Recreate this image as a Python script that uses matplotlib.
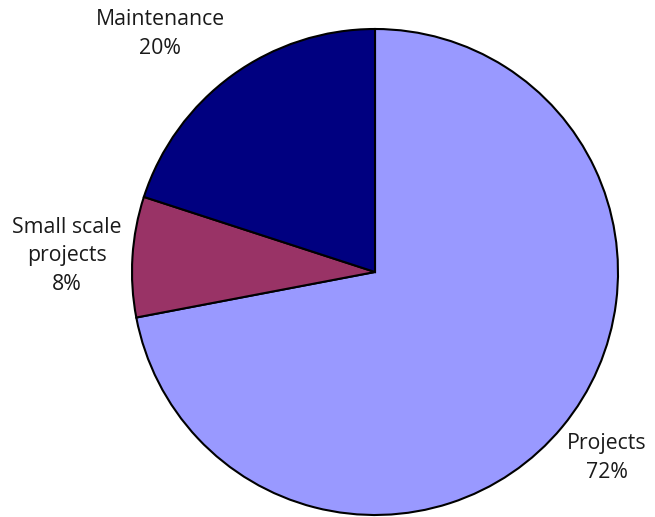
import matplotlib
matplotlib.use("Agg")
import matplotlib.pyplot as plt

# Share of work by category
categories = ['Projects', 'Small scale\nprojects', 'Maintenance']
shares = [72, 8, 20]
colors = ['#9999FF', '#993366', '#000080']

plt.rcParams['font.family'] = ['Open Sans', 'DejaVu Sans']

fig = plt.figure(figsize=(6.55, 5.17), dpi=100)
ax = fig.add_axes([0, 0, 1, 1])

wedges, _ = ax.pie(shares, colors=colors, startangle=90, counterclock=False,
                   radius=1.0, center=(0, 0),
                   wedgeprops={'edgecolor': 'black', 'linewidth': 1.5})

# label positions in units of the pie radius
label_pos = [(0.955, -0.765), (-1.267, 0.066), (-0.885, 0.98)]
for name, val, (x, y) in zip(categories, shares, label_pos):
    ax.text(x, y, f'{name}\n{val}%', ha='center', va='center',
            fontsize=15.3, linespacing=1.48, color='#1a1a1a')

ax.set_xlim(-375 / 243, 280 / 243)
ax.set_ylim(-245 / 243, 272 / 243)
ax.set_aspect('equal')
ax.axis('off')

fig.savefig('out.png', dpi=100)
